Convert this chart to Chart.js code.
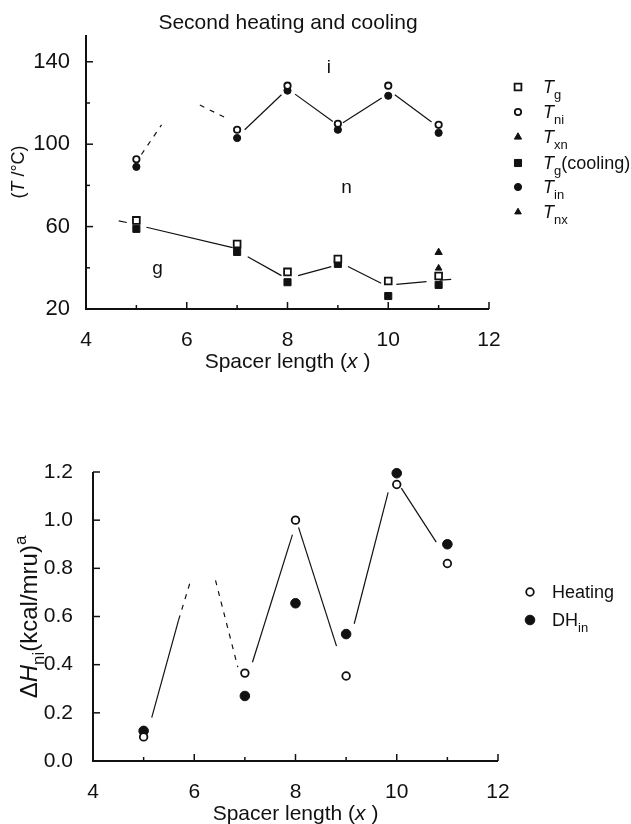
<!DOCTYPE html>
<html>
<head>
<meta charset="utf-8">
<script src="https://cdn.jsdelivr.net/npm/chart.js@4.4.1/dist/chart.umd.min.js"></script>
<style>
  html, body { margin: 0; padding: 0; background: #fff; }
  #wrap { position: relative; width: 631px; height: 824px; overflow: hidden; }
  #topChart { position: absolute; left: 0; top: 0; }
  #botChart { position: absolute; left: 0; top: 390px; }
</style>
</head>
<body>
<div id="wrap">
  <canvas id="topChart" width="631" height="390"></canvas>
  <canvas id="botChart" width="631" height="434"></canvas>
</div>
<script>
const FONT = '"Liberation Sans", Arial, Helvetica, sans-serif';
const INK = '#111';

// top panel: transition temperatures vs spacer length
const spacerX = [5, 7, 8, 9, 10, 11];
const tgHeating = [63, 51.5, 38, 44.3, 33.6, 36];
const tniHeating = [92.7, 107, 128.4, 109.9, 128.4, 109.4];
const tgCooling = [58.9, 47.7, 33, 41.9, 26.3, 31.7];
const tinCooling = [89, 103, 126, 107, 123.5, 105.5];
const txnX = [11];
const txnVals = [47.5];
const tnxX = [11];
const tnxVals = [39.8];

// pen lines drawn through the top panel (null = break in the line)
const upperLineX = [5.1, 5.5, 5.9, 6.26, 6.79, 6.95, 7.15, 7.88, 8.0, 8.15, 8.9, 9.0, 9.1, 9.87, 10.0, 10.13, 10.86];
const upperLineY = [95, 109.4, null, 119, 112.6, null, 107, 124, null, 124.3, 111, null, 110.4, 122.4, null, 124, 110.8];
const lowerLineX = [4.65, 4.81, 5.0, 5.2, 6.91, 7.05, 7.21, 7.88, 8.05, 8.21, 8.87, 9.05, 9.2, 9.86, 10.0, 10.16, 10.76, 10.9, 11.02, 11.25];
const lowerLineY = [62.8, 62, null, 59.7, 49.8, null, 45.4, 36.2, null, 36.2, 40.6, null, 40.6, 32.5, null, 32, 33.3, null, 34, 34.4];

// bottom panel: enthalpy
const dhHeating = [0.10, 0.365, 1.00, 0.353, 1.148, 0.82];
const dhCooling = [0.125, 0.27, 0.655, 0.527, 1.195, 0.90];
const dhLineX = [5.16, 5.69, 5.93, 6.1, 6.42, 6.86, 7.0, 7.15, 7.94, 8.0, 8.06, 8.81, 8.98, 9.16, 9.83, 9.96, 10.09, 10.78];
const dhLineY = [0.18, 0.585, 0.75, null, 0.75, 0.39, null, 0.41, 0.94, null, 0.97, 0.477, null, 0.57, 1.115, null, 1.133, 0.909];

const xTickLabels = [4, 6, 8, 10, 12];
const tempTickLabels = [20, 60, 100, 140];
const dhTickLabels = [0, 0.2, 0.4, 0.6, 0.8, 1.0, 1.2];

const regionNotes = [
  { t: 'i', x: 8.82, y: 137 },
  { t: 'n', x: 9.17, y: 78.8 },
  { t: 'g', x: 5.42, y: 39.4 },
];

const pts = (xs, ys) => xs.map((x, i) => ({ x, y: ys[i] }));
const near = (list, v) => list.some(t => Math.abs(t - v) < 1e-6);

function markers(label, xs, ys, style, filled, r) {
  return {
    label, data: pts(xs, ys), showLine: false, clip: false,
    pointStyle: style, pointRadius: r, pointHoverRadius: r,
    pointBackgroundColor: filled ? INK : '#fff',
    pointBorderColor: INK, pointBorderWidth: filled ? 1 : 1.8,
    order: 1,
  };
}

function penLine(xs, ys, isDashed) {
  return {
    label: '', data: pts(xs, ys), showLine: true, spanGaps: false,
    pointRadius: 0, pointHoverRadius: 0,
    borderColor: INK, borderWidth: 1.2, fill: false, tension: 0,
    order: 5,
    segment: { borderDash: ctx => isDashed(ctx.p0.parsed.x, ctx.p1.parsed.x) ? [5, 6] : undefined },
  };
}

function partFont(p, size) {
  const small = p[1] === 'sub' || p[1] === 'sup';
  const it = p[1] === 'i';
  return `${it ? 'italic ' : ''}${small ? Math.round(size * 0.7) : size}px ${FONT}`;
}

// draw text made of parts: [text, ''|'i'|'sub'|'sup']
function rich(ctx, parts, x, y, size, align) {
  const widths = parts.map(p => { ctx.font = partFont(p, size); return ctx.measureText(p[0]).width; });
  const total = widths.reduce((a, b) => a + b, 0);
  let cx = align === 'center' ? x - total / 2 : x;
  ctx.textAlign = 'left';
  ctx.textBaseline = 'alphabetic';
  parts.forEach((p, i) => {
    ctx.font = partFont(p, size);
    const dy = p[1] === 'sub' ? size * 0.3 : p[1] === 'sup' ? -size * 0.45 : 0;
    ctx.fillText(p[0], cx, y + dy);
    cx += widths[i];
  });
}

const decor = {
  id: 'decor',
  beforeDatasetsDraw(chart, args, opts) {
    const { ctx, chartArea: a } = chart;
    const xs = chart.scales.x, ys = chart.scales.y;
    ctx.save();
    ctx.strokeStyle = INK;
    ctx.lineWidth = 2;
    ctx.beginPath();
    ctx.moveTo(a.left, a.top);
    ctx.lineTo(a.left, a.bottom);
    ctx.lineTo(a.right, a.bottom);
    ctx.stroke();
    ctx.lineWidth = 1.5;
    xs.ticks.forEach(t => {
      const px = xs.getPixelForValue(t.value);
      const len = near(opts.majorX, t.value) ? 7 : 4;
      ctx.beginPath(); ctx.moveTo(px, a.bottom); ctx.lineTo(px, a.bottom - len); ctx.stroke();
    });
    ys.ticks.forEach(t => {
      const py = ys.getPixelForValue(t.value);
      const len = near(opts.majorY, t.value) ? 7 : 4;
      ctx.beginPath(); ctx.moveTo(a.left, py); ctx.lineTo(a.left + len, py); ctx.stroke();
    });
    ctx.restore();
  },
  afterDraw(chart, args, opts) {
    const { ctx, chartArea: a } = chart;
    const xs = chart.scales.x, ys = chart.scales.y;
    ctx.save();
    ctx.fillStyle = INK;
    if (opts.title) rich(ctx, opts.title.parts, opts.title.x, opts.title.y, opts.title.size, 'center');
    rich(ctx, opts.xTitle.parts, (a.left + a.right) / 2, opts.xTitle.y, opts.xTitle.size, 'center');
    ctx.save();
    ctx.translate(opts.yTitle.x, opts.yTitle.y);
    ctx.rotate(-Math.PI / 2);
    rich(ctx, opts.yTitle.parts, 0, 0, opts.yTitle.size, 'center');
    ctx.restore();
    (opts.notes || []).forEach(n => {
      ctx.font = `${opts.noteSize}px ${FONT}`;
      ctx.textAlign = 'center';
      ctx.textBaseline = 'middle';
      ctx.fillText(n.t, xs.getPixelForValue(n.x), ys.getPixelForValue(n.y));
    });
    const lg = opts.legend;
    lg.rows.forEach(row => {
      const ds = chart.data.datasets[row.ds];
      ctx.fillStyle = ds.pointBackgroundColor;
      ctx.strokeStyle = ds.pointBorderColor;
      ctx.lineWidth = ds.pointBorderWidth;
      Chart.helpers.drawPoint(ctx, { pointStyle: ds.pointStyle, rotation: 0, radius: ds.pointRadius, borderWidth: ds.pointBorderWidth }, lg.markerX, row.y);
      ctx.fillStyle = INK;
      rich(ctx, row.parts, lg.textX, row.y + lg.size * 0.36, lg.size, 'left');
    });
    ctx.restore();
  },
};

const tickFont = { family: FONT, size: 21 };

function xScale() {
  return {
    type: 'linear', min: 4, max: 12,
    grid: { display: false }, border: { display: false },
    ticks: {
      stepSize: 1, autoSkip: false, maxRotation: 0, padding: 11,
      color: INK, font: tickFont,
      callback: v => near(xTickLabels, v) ? String(v) : '',
    },
    afterFit: s => { s.height = s.chart.canvas.id === 'topChart' ? 81 : 63; },
  };
}

new Chart(document.getElementById('topChart'), {
  type: 'line',
  data: {
    datasets: [
      markers('Tg', spacerX, tgHeating, 'rect', false, 4.8),
      markers('Tni', spacerX, tniHeating, 'circle', false, 3.2),
      markers('Txn', txnX, txnVals, 'triangle', true, 4.2),
      markers('Tg(cooling)', spacerX, tgCooling, 'rect', true, 5),
      markers('Tin', spacerX, tinCooling, 'circle', true, 3.6),
      markers('Tnx', tnxX, tnxVals, 'triangle', true, 3.8),
      penLine(upperLineX, upperLineY, (x0, x1) => x1 < 7),
      penLine(lowerLineX, lowerLineY, () => false),
    ],
  },
  options: {
    responsive: false, animation: false, events: [],
    layout: { padding: { left: 0, top: 35, right: 142, bottom: 0 } },
    scales: {
      x: xScale(),
      y: {
        type: 'linear', min: 20, max: 153,
        grid: { display: false }, border: { display: false },
        ticks: {
          stepSize: 20, includeBounds: false, autoSkip: false, padding: 8,
          color: INK, font: { family: FONT, size: 22 },
          callback: v => near(tempTickLabels, v) ? String(v) : '',
        },
        afterFit: s => { s.width = 86; },
      },
    },
    plugins: {
      legend: { display: false },
      tooltip: { enabled: false },
      decor: {
        majorX: xTickLabels, majorY: tempTickLabels,
        title: { parts: [['Second heating and cooling', '']], x: 288, y: 29, size: 21 },
        xTitle: { parts: [['Spacer length (', ''], ['x', 'i'], [' )', '']], y: 368, size: 21 },
        yTitle: { parts: [['(', ''], ['T', 'i'], [' /°C)', '']], x: 24, y: 172, size: 18 },
        notes: regionNotes, noteSize: 19,
        legend: {
          markerX: 518, textX: 543, size: 18,
          rows: [
            { ds: 0, y: 87, parts: [['T', 'i'], ['g', 'sub']] },
            { ds: 1, y: 112, parts: [['T', 'i'], ['ni', 'sub']] },
            { ds: 2, y: 137, parts: [['T', 'i'], ['xn', 'sub']] },
            { ds: 3, y: 163, parts: [['T', 'i'], ['g', 'sub'], ['(cooling)', '']] },
            { ds: 4, y: 187, parts: [['T', 'i'], ['in', 'sub']] },
            { ds: 5, y: 212, parts: [['T', 'i'], ['nx', 'sub']] },
          ],
        },
      },
    },
  },
  plugins: [decor],
});

new Chart(document.getElementById('botChart'), {
  type: 'line',
  data: {
    datasets: [
      markers('Heating', spacerX, dhHeating, 'circle', false, 3.8),
      markers('DHin', spacerX, dhCooling, 'circle', true, 4.8),
      penLine(dhLineX, dhLineY, (x0, x1) => x0 >= 5.6 && x1 < 7),
    ],
  },
  options: {
    responsive: false, animation: false, events: [],
    layout: { padding: { left: 0, top: 82, right: 133, bottom: 0 } },
    scales: {
      x: xScale(),
      y: {
        type: 'linear', min: 0, max: 1.2,
        grid: { display: false }, border: { display: false },
        ticks: {
          stepSize: 0.2, includeBounds: false, autoSkip: false, padding: 12,
          color: INK, font: tickFont,
          callback: v => v.toFixed(1),
        },
        afterFit: s => { s.width = 93; },
      },
    },
    plugins: {
      legend: { display: false },
      tooltip: { enabled: false },
      decor: {
        majorX: xTickLabels, majorY: dhTickLabels,
        xTitle: { parts: [['Spacer length (', ''], ['x', 'i'], [' )', '']], y: 430, size: 21 },
        yTitle: { parts: [['Δ', ''], ['H', 'i'], ['ni', 'sub'], ['(kcal/mru)', ''], ['a', 'sup']], x: 37, y: 227, size: 24 },
        legend: {
          markerX: 530, textX: 552, size: 18,
          rows: [
            { ds: 0, y: 202, parts: [['Heating', '']] },
            { ds: 1, y: 230, parts: [['DH', ''], ['in', 'sub']] },
          ],
        },
      },
    },
  },
  plugins: [decor],
});
</script>
</body>
</html>
